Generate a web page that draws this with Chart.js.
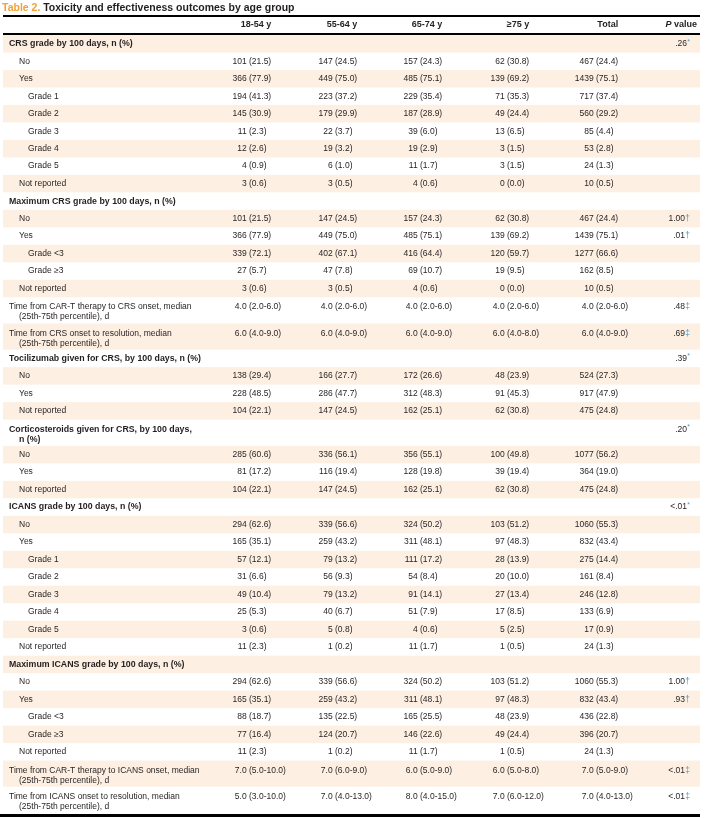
<!DOCTYPE html>
<html>
<head>
<meta charset="utf-8">
<title>Table 2</title>
<script src="https://cdn.jsdelivr.net/npm/chart.js@4.4.1/dist/chart.umd.min.js"></script>
<style>
  html, body { margin: 0; padding: 0; background: #fff; overflow: hidden; }
  canvas { display: block; }
</style>
</head>
<body>
<canvas id="tableChart" width="705" height="818"></canvas>
<script>
// ---- table content ----
const tableNumber = 'Table 2.';
const tableTitle = 'Toxicity and effectiveness outcomes by age group';
const columnHeaders = ['18-54 y', '55-64 y', '65-74 y', '\u226575 y', 'Total'];

const rowLabels = [
  'CRS grade by 100 days, n (%)',
  'No', 'Yes', 'Grade 1', 'Grade 2', 'Grade 3', 'Grade 4', 'Grade 5', 'Not reported',
  'Maximum CRS grade by 100 days, n (%)',
  'No', 'Yes', 'Grade <3', 'Grade \u22653', 'Not reported',
  'Time from CAR-T therapy to CRS onset, median\n(25th-75th percentile), d',
  'Time from CRS onset to resolution, median\n(25th-75th percentile), d',
  'Tocilizumab given for CRS, by 100 days, n (%)',
  'No', 'Yes', 'Not reported',
  'Corticosteroids given for CRS, by 100 days,\nn (%)',
  'No', 'Yes', 'Not reported',
  'ICANS grade by 100 days, n (%)',
  'No', 'Yes', 'Grade 1', 'Grade 2', 'Grade 3', 'Grade 4', 'Grade 5', 'Not reported',
  'Maximum ICANS grade by 100 days, n (%)',
  'No', 'Yes', 'Grade <3', 'Grade \u22653', 'Not reported',
  'Time from CAR-T therapy to ICANS onset, median\n(25th-75th percentile), d',
  'Time from ICANS onset to resolution, median\n(25th-75th percentile), d'
];

// 0 = heading, 1 = answer, 2 = grade
const rowLevels = [
  0, 1, 1, 2, 2, 2, 2, 2, 1,
  0, 1, 1, 2, 2, 1,
  0, 0,
  0, 1, 1, 1,
  0, 1, 1, 1,
  0, 1, 1, 2, 2, 2, 2, 2, 1,
  0, 1, 1, 2, 2, 1,
  0, 0
];

const age18to54 = [
  null, '101 (21.5)', '366 (77.9)', '194 (41.3)', '145 (30.9)', '11 (2.3)', '12 (2.6)', '4 (0.9)', '3 (0.6)',
  null, '101 (21.5)', '366 (77.9)', '339 (72.1)', '27 (5.7)', '3 (0.6)',
  '4.0 (2.0-6.0)', '6.0 (4.0-9.0)',
  null, '138 (29.4)', '228 (48.5)', '104 (22.1)',
  null, '285 (60.6)', '81 (17.2)', '104 (22.1)',
  null, '294 (62.6)', '165 (35.1)', '57 (12.1)', '31 (6.6)', '49 (10.4)', '25 (5.3)', '3 (0.6)', '11 (2.3)',
  null, '294 (62.6)', '165 (35.1)', '88 (18.7)', '77 (16.4)', '11 (2.3)',
  '7.0 (5.0-10.0)', '5.0 (3.0-10.0)'
];
const age55to64 = [
  null, '147 (24.5)', '449 (75.0)', '223 (37.2)', '179 (29.9)', '22 (3.7)', '19 (3.2)', '6 (1.0)', '3 (0.5)',
  null, '147 (24.5)', '449 (75.0)', '402 (67.1)', '47 (7.8)', '3 (0.5)',
  '4.0 (2.0-6.0)', '6.0 (4.0-9.0)',
  null, '166 (27.7)', '286 (47.7)', '147 (24.5)',
  null, '336 (56.1)', '116 (19.4)', '147 (24.5)',
  null, '339 (56.6)', '259 (43.2)', '79 (13.2)', '56 (9.3)', '79 (13.2)', '40 (6.7)', '5 (0.8)', '1 (0.2)',
  null, '339 (56.6)', '259 (43.2)', '135 (22.5)', '124 (20.7)', '1 (0.2)',
  '7.0 (6.0-9.0)', '7.0 (4.0-13.0)'
];
const age65to74 = [
  null, '157 (24.3)', '485 (75.1)', '229 (35.4)', '187 (28.9)', '39 (6.0)', '19 (2.9)', '11 (1.7)', '4 (0.6)',
  null, '157 (24.3)', '485 (75.1)', '416 (64.4)', '69 (10.7)', '4 (0.6)',
  '4.0 (2.0-6.0)', '6.0 (4.0-9.0)',
  null, '172 (26.6)', '312 (48.3)', '162 (25.1)',
  null, '356 (55.1)', '128 (19.8)', '162 (25.1)',
  null, '324 (50.2)', '311 (48.1)', '111 (17.2)', '54 (8.4)', '91 (14.1)', '51 (7.9)', '4 (0.6)', '11 (1.7)',
  null, '324 (50.2)', '311 (48.1)', '165 (25.5)', '146 (22.6)', '11 (1.7)',
  '6.0 (5.0-9.0)', '8.0 (4.0-15.0)'
];
const age75plus = [
  null, '62 (30.8)', '139 (69.2)', '71 (35.3)', '49 (24.4)', '13 (6.5)', '3 (1.5)', '3 (1.5)', '0 (0.0)',
  null, '62 (30.8)', '139 (69.2)', '120 (59.7)', '19 (9.5)', '0 (0.0)',
  '4.0 (2.0-6.0)', '6.0 (4.0-8.0)',
  null, '48 (23.9)', '91 (45.3)', '62 (30.8)',
  null, '100 (49.8)', '39 (19.4)', '62 (30.8)',
  null, '103 (51.2)', '97 (48.3)', '28 (13.9)', '20 (10.0)', '27 (13.4)', '17 (8.5)', '5 (2.5)', '1 (0.5)',
  null, '103 (51.2)', '97 (48.3)', '48 (23.9)', '49 (24.4)', '1 (0.5)',
  '6.0 (5.0-8.0)', '7.0 (6.0-12.0)'
];
const totals = [
  null, '467 (24.4)', '1439 (75.1)', '717 (37.4)', '560 (29.2)', '85 (4.4)', '53 (2.8)', '24 (1.3)', '10 (0.5)',
  null, '467 (24.4)', '1439 (75.1)', '1277 (66.6)', '162 (8.5)', '10 (0.5)',
  '4.0 (2.0-6.0)', '6.0 (4.0-9.0)',
  null, '524 (27.3)', '917 (47.9)', '475 (24.8)',
  null, '1077 (56.2)', '364 (19.0)', '475 (24.8)',
  null, '1060 (55.3)', '832 (43.4)', '275 (14.4)', '161 (8.4)', '246 (12.8)', '133 (6.9)', '17 (0.9)', '24 (1.3)',
  null, '1060 (55.3)', '832 (43.4)', '436 (22.8)', '396 (20.7)', '24 (1.3)',
  '7.0 (5.0-9.0)', '7.0 (4.0-13.0)'
];
const pValues = [
  '.26*', null, null, null, null, null, null, null, null,
  null, '1.00\u2020', '.01\u2020', null, null, null,
  '.48\u2021', '.69\u2021',
  '.39*', null, null, null,
  '.20*', null, null, null,
  '<.01*', null, null, null, null, null, null, null, null,
  null, '1.00\u2020', '.93\u2020', null, null, null,
  '<.01\u2021', '<.01\u2021'
];

// ---- layout / style ----
const FONT = '"Liberation Sans", Arial, Helvetica, sans-serif';
const TEXT = '#231f20';
const SHADE = '#fdf0e2';
const ORANGE = '#f3a036';
const BLUE = '#3f9fd6';
const BODY_PX = 8.5;
const BOLD_PX = 8.8;
const indents = [9, 19, 28];
const colAnchors = [249, 335, 420, 507, 596]; // x of the "(" in each column
const pRight = 690;
const lineGap = 10;

const valueColumns = [age18to54, age55to64, age65to74, age75plus, totals];
const rowUnits = rowLabels.map(l => (l.split('\n').length > 1 ? 1.5 : 1));
const rowStart = [];
rowUnits.reduce((acc, u, i) => { rowStart[i] = acc; return acc + u; }, 0);
const totalUnits = rowStart[rowStart.length - 1] + rowUnits[rowUnits.length - 1];
const isHeading = rowLabels.map((_, i) => valueColumns.every(col => col[i] == null));
// first text line: middle of a single row, a little lower in two-line rows
const firstLine = rowUnits.map((u, i) => rowStart[i] + (u > 1 ? 0.56 : 0.5));

function font(px, weight, style) {
  return (style || '') + ' ' + (weight || 'normal') + ' ' + px + 'px ' + FONT;
}

const labelData = rowLabels.map((label, i) => ({ x: indents[rowLevels[i]], y: firstLine[i], text: label, row: i }));
const columnData = valueColumns.map((col, c) =>
  col.map((v, i) => (v == null ? null : { x: colAnchors[c], y: firstLine[i], text: v, row: i })).filter(Boolean));
const pData = pValues.map((v, i) => (v == null ? null : { x: pRight, y: firstLine[i], text: v, row: i })).filter(Boolean);

const tablePlugin = {
  id: 'tableCells',
  beforeDraw(chart) {
    const { ctx, scales: { x, y } } = chart;
    ctx.save();
    ctx.fillStyle = '#fff';
    ctx.fillRect(0, 0, chart.width, chart.height);

    // alternate row shading
    ctx.fillStyle = SHADE;
    rowLabels.forEach((_, i) => {
      if (i % 2 !== 0) return;
      const top = y.getPixelForValue(rowStart[i]);
      const bottom = y.getPixelForValue(rowStart[i] + rowUnits[i]);
      ctx.fillRect(x.getPixelForValue(3), top, x.getPixelForValue(700) - x.getPixelForValue(3), bottom - top);
    });

    // title
    ctx.textBaseline = 'middle';
    ctx.textAlign = 'left';
    ctx.font = font(10.5, 'bold');
    ctx.fillStyle = ORANGE;
    ctx.fillText(tableNumber, 2, 8);
    const w = ctx.measureText(tableNumber + ' ').width;
    ctx.fillStyle = TEXT;
    ctx.fillText(tableTitle, 2 + w, 8);

    // rules
    const area = chart.chartArea;
    ctx.fillStyle = '#000';
    ctx.fillRect(3, 15, 697, 2);
    ctx.fillRect(3, area.top - 2, 697, 2);
    ctx.fillRect(0, area.bottom + 1, 700, 3);

    // column headers
    ctx.font = font(BODY_PX);
    const tailW = ctx.measureText('(00.0)').width;
    ctx.font = font(9, 'bold');
    ctx.fillStyle = TEXT;
    ctx.textAlign = 'right';
    columnHeaders.forEach((h, c) => ctx.fillText(h, colAnchors[c] + tailW, 25));
    const vw = ctx.measureText(' value').width;
    ctx.fillText(' value', 697, 25);
    ctx.font = font(9, 'bold', 'italic');
    ctx.fillText('P', 697 - vw, 25);
    ctx.restore();
  },
  afterDatasetsDraw(chart) {
    const { ctx } = chart;
    ctx.save();
    ctx.textBaseline = 'middle';
    ctx.fillStyle = TEXT;
    chart.data.datasets.forEach((ds, di) => {
      const meta = chart.getDatasetMeta(di);
      meta.data.forEach((el, j) => {
        const cell = ds.data[j];
        if (ds.kind === 'label') {
          ctx.textAlign = 'left';
          ctx.font = isHeading[cell.row] ? font(BOLD_PX, 'bold') : font(BODY_PX);
          cell.text.split('\n').forEach((line, k) => {
            const lx = k === 0 ? el.x : indents[Math.max(1, rowLevels[cell.row] + 1)];
            ctx.fillText(line, lx, el.y + k * lineGap);
          });
        } else if (ds.kind === 'value') {
          ctx.font = font(BODY_PX);
          const cut = cell.text.indexOf(' ');
          ctx.textAlign = 'right';
          ctx.fillText(cell.text.slice(0, cut + 1), el.x, el.y);
          ctx.textAlign = 'left';
          ctx.fillText(cell.text.slice(cut + 1), el.x, el.y);
        } else {
          const mark = cell.text.slice(-1);
          const main = cell.text.slice(0, -1);
          ctx.textAlign = 'right';
          ctx.font = font(mark === '*' ? 7 : 8.5);
          ctx.fillStyle = BLUE;
          const mw = ctx.measureText(mark).width;
          ctx.fillText(mark, el.x, el.y + (mark === '*' ? -2 : 0));
          ctx.fillStyle = TEXT;
          ctx.font = font(BODY_PX);
          ctx.fillText(main, el.x - mw - 0.3, el.y);
        }
      });
    });
    ctx.restore();
  }
};

const datasets = [
  { kind: 'label', data: labelData, pointRadius: 0 },
  ...columnData.map((pts, c) => ({ kind: 'value', label: columnHeaders[c], data: pts, pointRadius: 0 })),
  { kind: 'p', label: 'P value', data: pData, pointRadius: 0 }
];

new Chart(document.getElementById('tableChart'), {
  type: 'scatter',
  data: { datasets },
  options: {
    responsive: false,
    animation: false,
    events: [],
    layout: { padding: { top: 35, bottom: 5, left: 0, right: 0 } },
    scales: {
      x: { type: 'linear', min: 0, max: 705, display: false },
      y: { type: 'linear', min: 0, max: totalUnits, reverse: true, display: false }
    },
    plugins: {
      legend: { display: false },
      tooltip: { enabled: false },
      title: { display: false }
    }
  },
  plugins: [tablePlugin]
});
</script>
</body>
</html>
